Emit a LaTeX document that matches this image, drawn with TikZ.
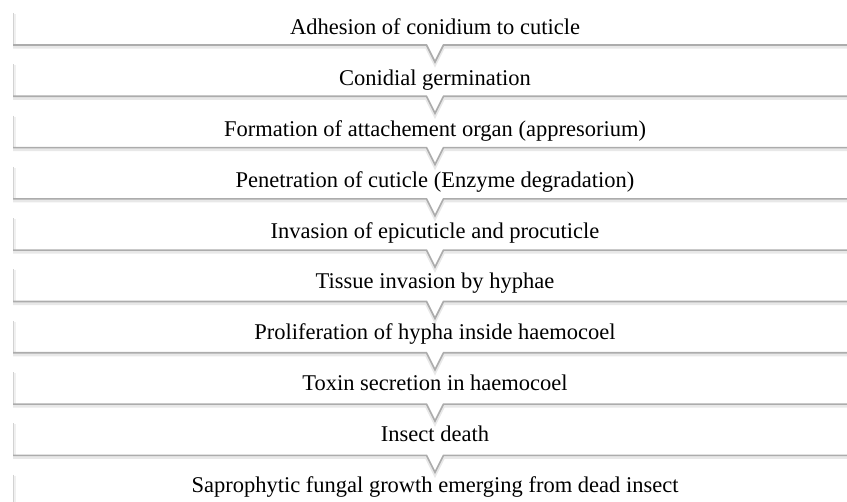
\documentclass[tikz,border=0pt]{standalone}
\usepackage{fontspec}
\setmainfont{Liberation Serif}
\usetikzlibrary{positioning}

\tikzset{
  steptext/.style={font=\fontsize{22.5}{26}\selectfont,inner sep=0pt,anchor=base},
  bandbase/.style={draw=gray!65,line width=1.6pt,line join=miter},
  bandshade/.style={draw=gray!18,line width=3.5pt,line join=miter},
  bandside/.style={draw=gray!35,line width=0.9pt},
  sideshade/.style={draw=gray!12,line width=2.5pt}
}

\begin{document}
\begin{tikzpicture}[x=1pt,y=-1pt]
\useasboundingbox (0,0) rectangle (847,502);
\clip (0,0) rectangle (847,502);
\foreach \txt [count=\i from 0] in {
  Adhesion of conidium to cuticle,
  Conidial germination,
  Formation of attachement organ (appresorium),
  Penetration of cuticle (Enzyme degradation),
  Invasion of  epicuticle and procuticle,
  Tissue invasion by hyphae,
  Proliferation of hypha inside haemocoel,
  Toxin secretion in haemocoel,
  Insect death,
  Saprophytic fungal growth emerging from dead insect}{
  \pgfmathsetmacro\ybot{45+51.3*\i}
  \pgfmathsetmacro\ytop{\ybot-32}
  \pgfmathsetmacro\ytxt{35+50.8*\i}
  % left edge of the band
  \draw[sideshade] (14.5,\ytop+1) -- (14.5,\ybot);
  \draw[bandside] (13,\ytop) -- (13,\ybot);
  % bottom edge with the notch
  \draw[bandshade] (13,\ybot+1.8) -- (426.5,\ybot+1.8) -- (435,\ybot+18.8)
    -- (443.5,\ybot+1.8) -- (860,\ybot+1.8);
  \draw[bandbase] (13,\ybot) -- (426.5,\ybot) -- (435,\ybot+17)
    -- (443.5,\ybot) -- (860,\ybot);
  \node[steptext] (step\i) at (435,\ytxt) {\txt};
}
\end{tikzpicture}
\end{document}
